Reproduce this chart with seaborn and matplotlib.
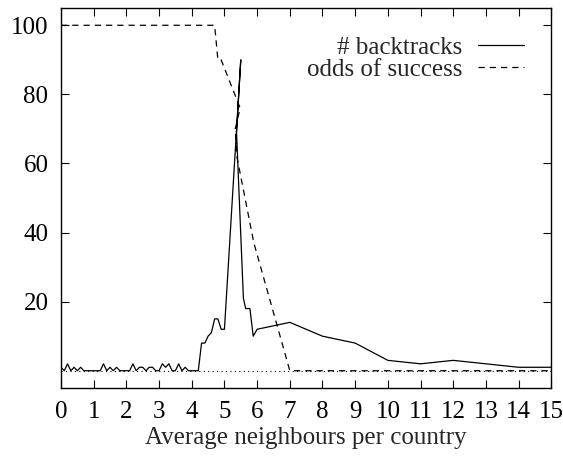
import numpy as np
import pandas as pd
import matplotlib
matplotlib.use("Agg")
import matplotlib.pyplot as plt
import seaborn as sns

# ---- data ----
bt_x = [0.0, 0.1, 0.2, 0.3, 0.4, 0.5, 0.6, 0.7, 0.8, 0.9, 1.0, 1.1, 1.2, 1.3, 1.4,
        1.5, 1.6, 1.7, 1.8, 1.9, 2.0, 2.1, 2.2, 2.3, 2.4, 2.5, 2.6, 2.7, 2.8, 2.9,
        3.0, 3.1, 3.2, 3.3, 3.4, 3.5, 3.6, 3.7, 3.8, 3.9, 4.0, 4.1, 4.2,
        4.3, 4.4, 4.5, 4.6, 4.7, 4.8, 4.9, 5.0, 5.5, 5.37, 5.58, 5.65, 5.78, 5.88,
        6.0, 7.0, 8.0, 9.0, 10.0, 11.0, 12.0, 13.0, 14.0, 15.0]
bt_y = [1, 0, 2, 0, 1, 0, 1, 0, 0, 0, 0, 0, 0, 2, 0,
        1, 0, 1, 0, 0, 0, 0, 2, 0, 1, 1, 0, 1, 1, 0,
        0, 2, 1, 2, 0, 0, 2, 0, 1, 0, 0, 0, 0,
        8, 8, 10, 11, 15, 15, 12, 12, 90, 69, 21, 18, 18, 10,
        12, 14, 10, 8, 3, 2, 3, 2, 1, 1]

od_x = [0.0, 4.7, 4.8, 4.9, 5.4, 5.48, 5.33, 5.38, 5.9, 7.0, 15.0]
od_y = [100, 100, 90, 90, 78, 76, 70, 62, 37, 0, 0]

x_ticks = list(range(0, 16))
y_ticks = [20, 40, 60, 80, 100]
x_label = "Average neighbours per country"
labels = ["# backtracks", "odds of success"]

bt = pd.DataFrame({"x": bt_x, "y": bt_y})
od = pd.DataFrame({"x": od_x, "y": od_y})

FS = 18
sns.set_style("ticks")
plt.rcParams["font.family"] = ["Liberation Serif", "DejaVu Serif"]
plt.rcParams["font.size"] = FS

fig = plt.figure(figsize=(5.63, 4.61), dpi=100)
ax = fig.add_axes([61 / 563, 73 / 461, 490.3 / 563, 380 / 461])

ax.axhline(0, color="black", lw=0.8, ls=(0, (1, 3)), zorder=1)
sns.lineplot(data=bt, x="x", y="y", ax=ax, sort=False, estimator=None,
             color="black", lw=0.9, label=labels[0])
sns.lineplot(data=od, x="x", y="y", ax=ax, sort=False, estimator=None,
             color="black", lw=0.9, linestyle=(0, (5, 4)), label=labels[1])

ax.set_xlim(0, 15)
ax.set_ylim(-5, 105)
ax.set_xticks(x_ticks)
ax.set_yticks(y_ticks)
ax.set_xlabel(x_label, fontsize=FS, labelpad=3)
ax.set_ylabel("")
ax.tick_params(direction="in", length=6, width=0.8, top=True, right=True,
               labelsize=FS, colors="black")
ax.tick_params(axis="x", pad=9.5)
ax.tick_params(axis="y", pad=9)
for s in ax.spines.values():
    s.set_linewidth(1.0)
    s.set_color("black")

ax.legend(loc="upper right", bbox_to_anchor=(0.944, 0.925), frameon=False,
          markerfirst=False, handlelength=1.85, handletextpad=0.62,
          borderpad=0, borderaxespad=0, labelspacing=-0.04, fontsize=FS)

fig.savefig("out.png", dpi=100)
